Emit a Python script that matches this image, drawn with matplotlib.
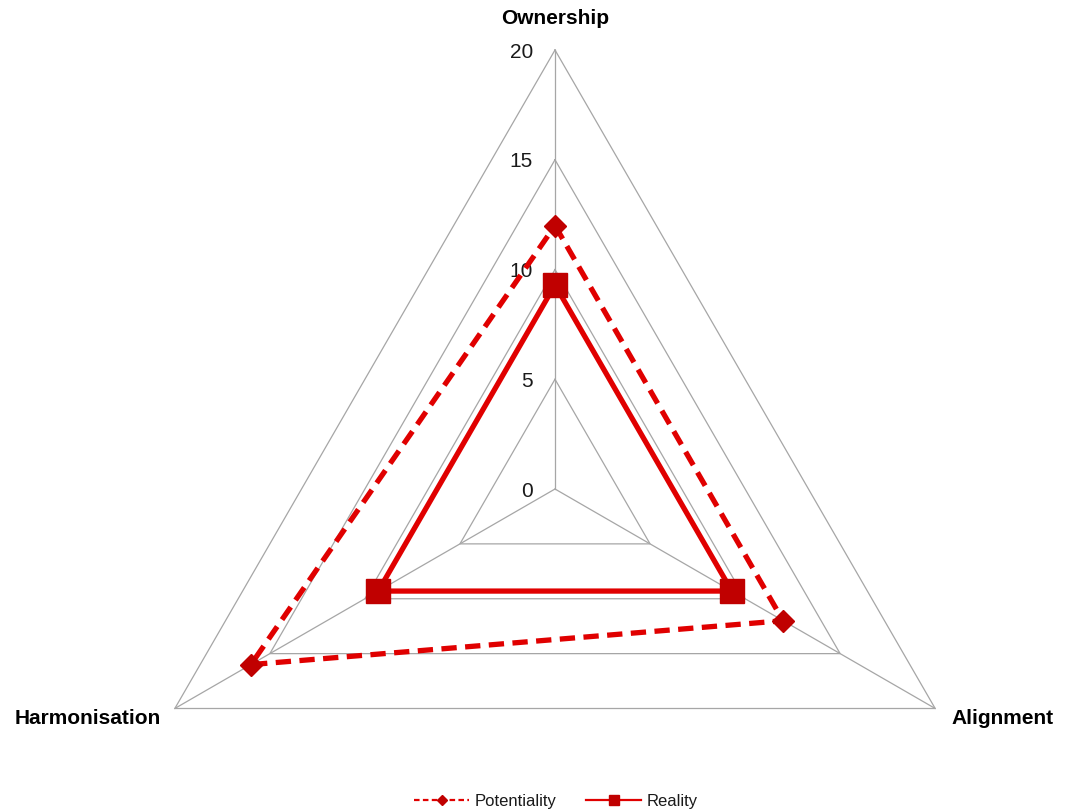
import numpy as np
import matplotlib
matplotlib.use("Agg")
import matplotlib.pyplot as plt
from matplotlib.lines import Line2D

plt.rcParams['font.family'] = ['Liberation Sans', 'DejaVu Sans']

categories = ["Ownership", "Alignment", "Harmonisation"]
potentiality = [12.0, 12.0, 16.0]
reality = [9.3, 9.3, 9.3]
tick_values = [0, 5, 10, 15, 20]
series_names = ["Potentiality", "Reality"]

W, H = 1073, 811
fig = plt.figure(figsize=(W / 100, H / 100), dpi=100)
ax = fig.add_axes([0, 0, 1, 1])
ax.set_axis_off()

# pixel layout of the chart area: centre and radius of the outer ring
cx, cy, rad = 555, 489, 439
scale = rad / tick_values[-1]
ax.set_xlim(-cx / scale, (W - cx) / scale)
ax.set_ylim(-(H - cy) / scale, cy / scale)

angles = np.deg2rad([90, -30, 210])


def to_xy(values):
    v = np.asarray(values, dtype=float)
    x = v * np.cos(angles)
    y = v * np.sin(angles)
    return np.append(x, x[0]), np.append(y, y[0])


grid_color = "#A6A6A6"
# polygon gridlines
for t in tick_values[1:]:
    gx, gy = to_xy([t] * 3)
    ax.plot(gx, gy, color=grid_color, lw=0.9, zorder=1)
# spokes
for a in angles:
    ax.plot([0, tick_values[-1] * np.cos(a)], [0, tick_values[-1] * np.sin(a)],
            color=grid_color, lw=0.9, zorder=1)

# radial tick labels along the top spoke
for t in tick_values:
    ax.annotate(str(t), xy=(0, t), xytext=(-16, -1.5), textcoords="offset points",
                ha="right", va="center", fontsize=15, color="#1a1a1a")

# series
px, py = to_xy(potentiality)
ax.plot(px, py, color="#E00000", lw=3.8, ls=(0, (2.9, 1.6)), zorder=3,
        dash_capstyle="butt")
ax.plot(px[:-1], py[:-1], ls="none", marker="D", ms=11, color="#C00000",
        mec="#C00000", zorder=4)

rx, ry = to_xy(reality)
ax.plot(rx, ry, color="#E00000", lw=3.8, zorder=3, solid_joinstyle="miter")
ax.plot(rx[:-1], ry[:-1], ls="none", marker="s", ms=17, color="#C00000",
        mec="#C00000", zorder=4)

# category labels at the outer vertices
vx, vy = to_xy([tick_values[-1]] * 3)
ax.annotate(categories[0], xy=(vx[0], vy[0]), xytext=(0, 23), textcoords="offset points",
            ha="center", va="center", fontsize=15, fontweight="bold", color="#000000")
ax.annotate(categories[1], xy=(vx[1], vy[1]), xytext=(12, -7), textcoords="offset points",
            ha="left", va="center", fontsize=15, fontweight="bold", color="#000000")
ax.annotate(categories[2], xy=(vx[2], vy[2]), xytext=(-10, -7), textcoords="offset points",
            ha="right", va="center", fontsize=15, fontweight="bold", color="#000000")

handles = [
    Line2D([], [], color="#E00000", lw=1.6, ls=(0, (2.5, 1.5)), marker="D", ms=5,
           mfc="#C00000", mec="#C00000"),
    Line2D([], [], color="#E00000", lw=1.6, marker="s", ms=7,
           mfc="#C00000", mec="#C00000"),
]
fig.legend(handles, series_names, loc="lower center", bbox_to_anchor=(0.518, -0.016),
           ncol=2, frameon=False, fontsize=12, handlelength=3.3, handletextpad=0.3,
           columnspacing=1.8, labelcolor="#1a1a1a")

fig.savefig("out.png", dpi=100)
